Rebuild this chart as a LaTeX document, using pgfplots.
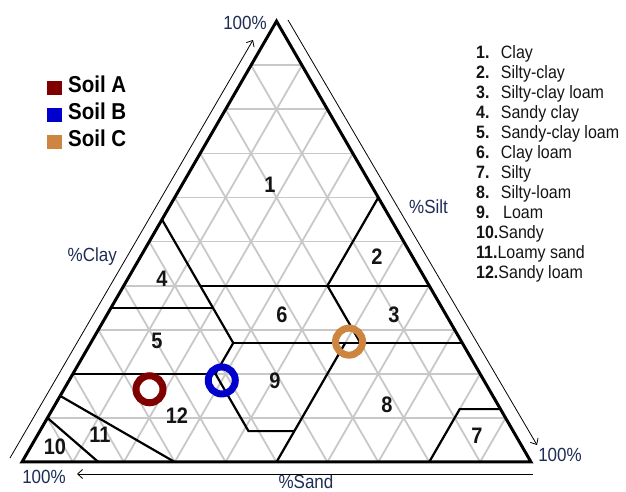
\documentclass[border=0pt]{standalone}
\usepackage{graphicx}
\usepackage{pgfplots}
\pgfplotsset{compat=1.18}
\usetikzlibrary{arrows.meta}
\usepackage{fontspec}
\setmainfont{Liberation Sans}

\definecolor{soilA}{RGB}{128,0,0}
\definecolor{soilB}{RGB}{0,0,204}
\definecolor{soilC}{RGB}{205,133,63}
\definecolor{gridgray}{RGB}{200,200,200}
\definecolor{labnavy}{RGB}{30,45,85}
\definecolor{txt}{RGB}{20,20,20}

% text in the source is a little taller than wide
\newcommand{\vs}[1]{\scalebox{1}[1.12]{#1}}

% (clay, silt) -> cartesian, sand = 100 - clay - silt
\pgfplotsset{
  table/tern/.style={row sep=\\, x expr=\thisrow{si}+0.5*\thisrow{cl}, y expr=0.866025*\thisrow{cl}},
  bnd/.style={black, line width=2.2pt, forget plot},
  soil/.style={only marks, mark=o, mark size=13.5pt, line width=7pt, mark options={line width=7pt}},
}

\begin{document}
\begin{tikzpicture}[x=1pt,y=1pt]
\begin{axis}[
  at={(22pt,30pt)}, anchor=south west,
  scale only axis, width=509pt, height=440.8pt,
  xmin=0, xmax=100, ymin=0, ymax=86.6025,
  hide axis, clip=false,
  legend style={at={(0.049,0.87)}, anchor=north west, draw=none, fill=none, inner sep=0pt,
    font=\fontsize{20.5}{24}\selectfont\bfseries,
    nodes={inner sep=0pt, text height=14pt, text depth=4pt},
    /tikz/every odd column/.append style={column sep=6pt},
    row sep=9pt},
  legend cell align=left,
  legend image code/.code={\fill[#1, draw=none] (0pt,-7pt) rectangle (15pt,7pt);},
]
% 10% grid
\pgfplotsinvokeforeach{10,20,30,40,50,60,70,80,90}{
  \addplot[gridgray, line width=1.8pt, forget plot] table[row sep=\\, x expr={#1/2+(100-#1)*\thisrow{t}}, y expr={0.866025*#1}] {t\\0\\1\\};
  \addplot[gridgray, line width=1.8pt, forget plot] table[row sep=\\, x expr={#1+(100-#1)/2*\thisrow{t}}, y expr={0.866025*(100-#1)*\thisrow{t}}] {t\\0\\1\\};
  \addplot[gridgray, line width=1.8pt, forget plot] table[row sep=\\, x expr={#1-#1/2*\thisrow{t}}, y expr={0.866025*#1*\thisrow{t}}] {t\\0\\1\\};
}

% class boundaries (clay, silt)
\addplot[bnd] table[tern] {cl si\\ 55 0\\ 27 28\\};
\addplot[bnd] table[tern] {cl si\\ 35 0\\ 35 20\\};
\addplot[bnd] table[tern] {cl si\\ 40 15\\ 40 60\\};
\addplot[bnd] table[tern] {cl si\\ 60 40\\ 40 40\\ 27 53\\};
\addplot[bnd] table[tern] {cl si\\ 27 28\\ 27 73\\};
\addplot[bnd] table[tern] {cl si\\ 27 28\\ 20 28\\ 7 41\\ 7 50\\};
\addplot[bnd] table[tern] {cl si\\ 20 0\\ 20 28\\};
\addplot[bnd] table[tern] {cl si\\ 27 50\\ 0 50\\};
\addplot[bnd] table[tern] {cl si\\ 12 88\\ 12 80\\ 0 80\\};
\addplot[bnd] table[tern] {cl si\\ 15 0\\ 0 30\\};
\addplot[bnd] table[tern] {cl si\\ 10 0\\ 0 15\\};

% outline
\addplot[black, line width=3pt, line join=miter, forget plot] table[tern] {cl si\\ 0 50\\ 0 100\\ 100 0\\ 0 0\\ 0 50\\};

% soils
\addplot[soil, soilA] table[tern] {cl si\\ 16.5 16.8\\};
\addlegendentry{\vs{Soil A}}
\addplot[soil, soilB] table[tern] {cl si\\ 18.5 30\\};
\addlegendentry{\vs{Soil B}}
\addplot[soil, soilC] table[tern] {cl si\\ 27.3 50.6\\};
\addlegendentry{\vs{Soil C}}
\end{axis}

% axis annotations
\begin{scope}[every node/.style={font=\fontsize{17}{20}\selectfont, text=labnavy, inner sep=0pt, anchor=base}]
\node at (245,462) {\vs{100\%}};
\node at (560,30.3) {\vs{100\%}};
\node at (44,8.7) {\vs{100\%}};
\node at (92.2,230) {\vs{\%Clay}};
\node at (428.5,278) {\vs{\%Silt}};
\node at (306,3.5) {\vs{\%Sand}};
\end{scope}
\draw[line width=0.8pt, -{Straight Barb[length=5pt,width=9pt]}] (10,34) -- (253,452);
\draw[line width=0.8pt, -{Straight Barb[length=5pt,width=9pt]}] (288,472) -- (537,47);
\draw[line width=0.8pt, -{Straight Barb[length=5pt,width=9pt]}] (533,18) -- (77,18);

% class numbers
\begin{scope}[every node/.style={font=\fontsize{20}{23}\selectfont\bfseries, text=txt, inner sep=0pt}]
\node at (270,307) {\vs{1}};
\node at (377,235) {\vs{2}};
\node at (394,177) {\vs{3}};
\node at (162,213) {\vs{4}};
\node at (157,151) {\vs{5}};
\node at (282,177) {\vs{6}};
\node at (477,56) {\vs{7}};
\node at (387,87) {\vs{8}};
\node at (275,111) {\vs{9}};
\node at (55,45) {\vs{10}};
\node at (100,57) {\vs{11}};
\node at (177,76) {\vs{12}};
\end{scope}

% class list
\begin{scope}[every node/.style={font=\fontsize{16}{19}\selectfont, text=txt, inner sep=0pt, anchor=base west}]
\node at (476,433.7) {\vs{\makebox[24.7pt][l]{\textbf{1.}}Clay}};
\node at (476,413.7) {\vs{\makebox[24.7pt][l]{\textbf{2.}}Silty-clay}};
\node at (476,393.7) {\vs{\makebox[24.7pt][l]{\textbf{3.}}Silty-clay loam}};
\node at (476,373.7) {\vs{\makebox[24.7pt][l]{\textbf{4.}}Sandy clay}};
\node at (476,353.7) {\vs{\makebox[24.7pt][l]{\textbf{5.}}Sandy-clay loam}};
\node at (476,333.7) {\vs{\makebox[24.7pt][l]{\textbf{6.}}Clay loam}};
\node at (476,313.7) {\vs{\makebox[24.7pt][l]{\textbf{7.}}Silty}};
\node at (476,293.7) {\vs{\makebox[24.7pt][l]{\textbf{8.}}Silty-loam}};
\node at (476,273.7) {\vs{\makebox[27pt][l]{\textbf{9.}}Loam}};
\node at (476,253.7) {\vs{\textbf{10.}Sandy}};
\node at (476,233.7) {\vs{\textbf{11.}Loamy sand}};
\node at (476,213.7) {\vs{\textbf{12.}Sandy loam}};
\end{scope}

\pgfresetboundingbox
\path (0,0) rectangle (626,492);
\end{tikzpicture}
\end{document}
